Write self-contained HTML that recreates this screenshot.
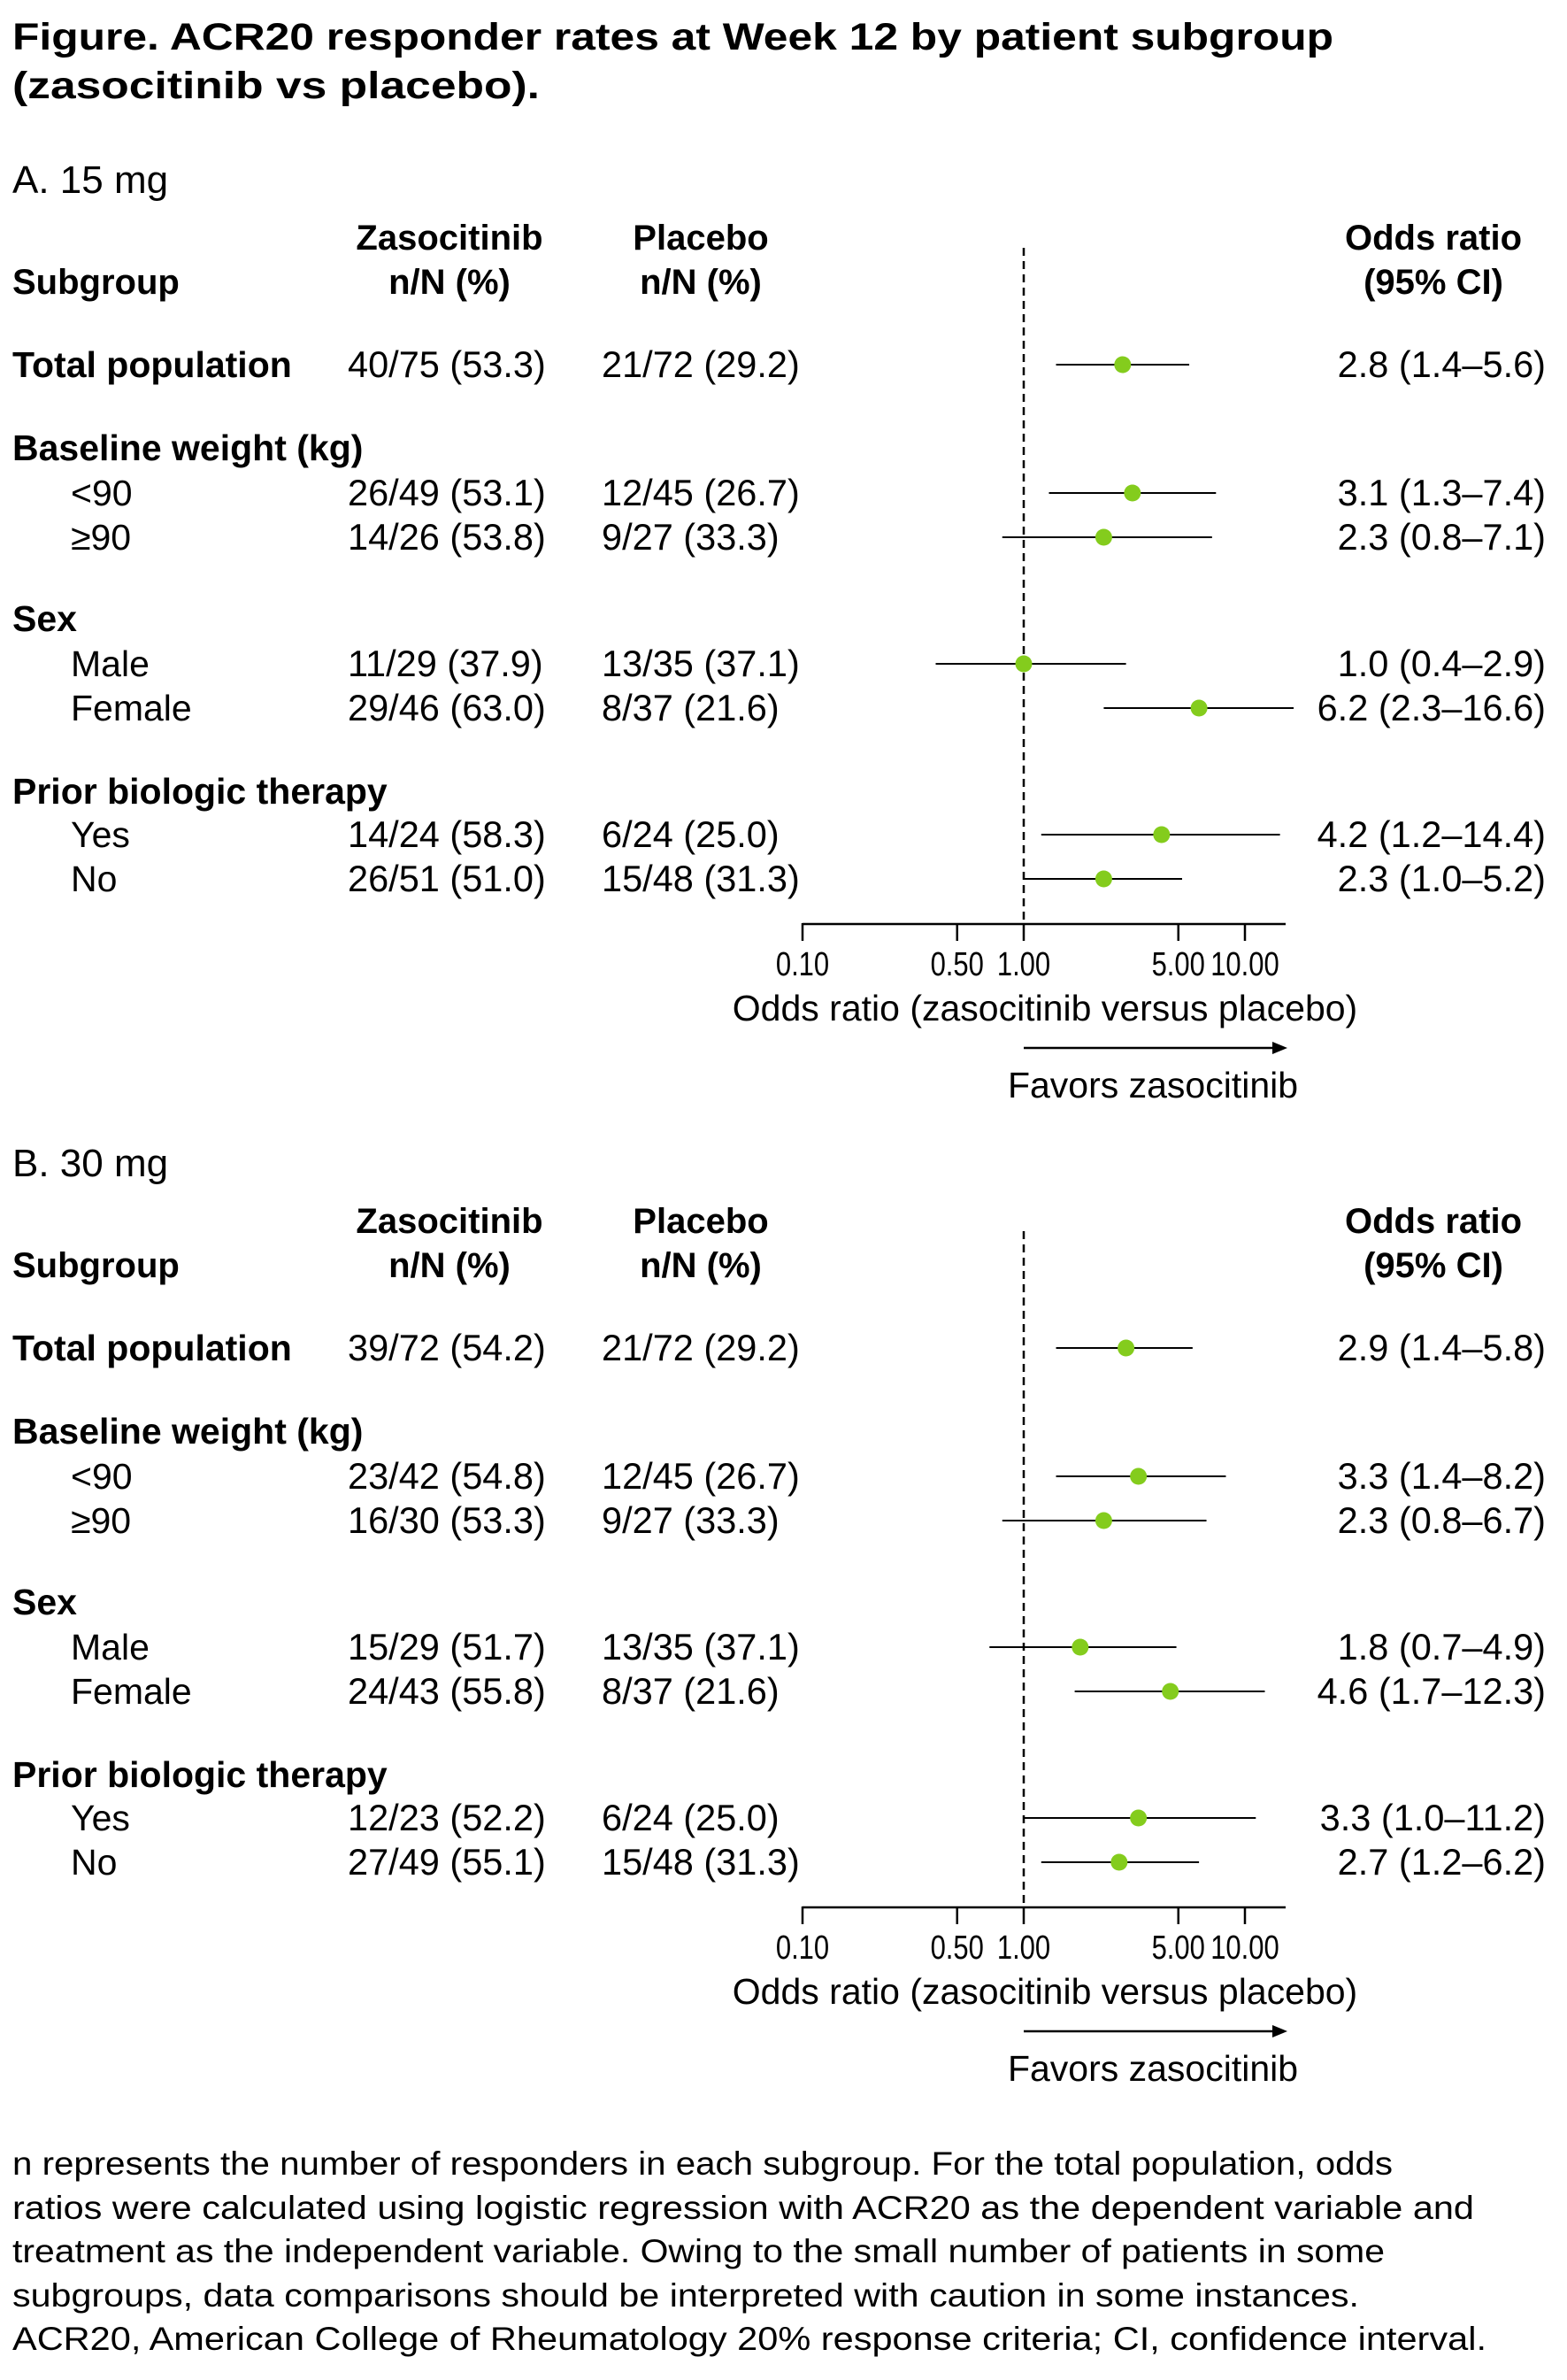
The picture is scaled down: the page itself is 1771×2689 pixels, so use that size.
<!DOCTYPE html>
<html><head><meta charset="utf-8"><style>
html,body{margin:0;padding:0;background:#fff}
svg{display:block;font-family:"Liberation Sans",Arial,sans-serif}
</style></head><body>
<svg id="fig" width="1771" height="2689" viewBox="0 0 1771 2689" xmlns="http://www.w3.org/2000/svg">
<g font-weight="bold" font-size="43" fill="#000">
<text x="14" y="56" textLength="1493" lengthAdjust="spacingAndGlyphs">Figure. ACR20 responder rates at Week 12 by patient subgroup</text>
<text x="14" y="111" textLength="596" lengthAdjust="spacingAndGlyphs">(zasocitinib vs placebo).</text>
</g>
<g id="panels"></g>
<g font-size="37" fill="#000">
<text x="14" y="2457" textLength="1560" lengthAdjust="spacingAndGlyphs">n represents the number of responders in each subgroup. For the total population, odds</text>
<text x="14" y="2507" textLength="1652" lengthAdjust="spacingAndGlyphs">ratios were calculated using logistic regression with ACR20 as the dependent variable and</text>
<text x="14" y="2556" textLength="1551" lengthAdjust="spacingAndGlyphs">treatment as the independent variable. Owing to the small number of patients in some</text>
<text x="14" y="2606" textLength="1522" lengthAdjust="spacingAndGlyphs">subgroups, data comparisons should be interpreted with caution in some instances.</text>
<text x="14" y="2655" textLength="1666" lengthAdjust="spacingAndGlyphs">ACR20, American College of Rheumatology 20% response criteria; CI, confidence interval.</text>
</g>
</svg>
<script>
const rowLabels = ["Total population","Baseline weight (kg)","<90","≥90","Sex","Male","Female","Prior biologic therapy","Yes","No"];
const rowKinds = ["bold","bold","sub","sub","bold","sub","sub","bold","sub","sub"];
const panelTitles = ["A. 15 mg","B. 30 mg"];
const zasoA = ["40/75 (53.3)","","26/49 (53.1)","14/26 (53.8)","","11/29 (37.9)","29/46 (63.0)","","14/24 (58.3)","26/51 (51.0)"];
const placA = ["21/72 (29.2)","","12/45 (26.7)","9/27 (33.3)","","13/35 (37.1)","8/37 (21.6)","","6/24 (25.0)","15/48 (31.3)"];
const orA = [2.8,null,3.1,2.3,null,1.0,6.2,null,4.2,2.3];
const loA = [1.4,null,1.3,0.8,null,0.4,2.3,null,1.2,1.0];
const hiA = [5.6,null,7.4,7.1,null,2.9,16.6,null,14.4,5.2];
const zasoB = ["39/72 (54.2)","","23/42 (54.8)","16/30 (53.3)","","15/29 (51.7)","24/43 (55.8)","","12/23 (52.2)","27/49 (55.1)"];
const placB = ["21/72 (29.2)","","12/45 (26.7)","9/27 (33.3)","","13/35 (37.1)","8/37 (21.6)","","6/24 (25.0)","15/48 (31.3)"];
const orB = [2.9,null,3.3,2.3,null,1.8,4.6,null,3.3,2.7];
const loB = [1.4,null,1.4,0.8,null,0.7,1.7,null,1.0,1.2];
const hiB = [5.8,null,8.2,6.7,null,4.9,12.3,null,11.2,6.2];
const tickValues = [0.1,0.5,1,5,10];
const tickLabels = ["0.10","0.50","1.00","5.00","10.00"];

const NS="http://www.w3.org/2000/svg";
const rowY=[412,506,557,607,699,750,800,894,943,993];
const xScale=v=>1157+250*Math.log10(v);
const fmt=v=>v.toFixed(1);
const emWidth=s=>[...s].reduce((a,c)=>a+(c==='.'?0.278:0.556),0);
function el(tag,attrs,parent,txt){const e=document.createElementNS(NS,tag);for(const k in attrs)e.setAttribute(k,attrs[k]);if(txt!==undefined)e.textContent=txt;parent.appendChild(e);return e;}
const root=document.getElementById('panels');
function panel(idx,zaso,plac,or,lo,hi){
  const off=idx*1111;
  const g=el('g',{transform:`translate(0,${off})`},root);
  
  
  const t=el('text',{x:14,y:218,'font-size':44},g,panelTitles[idx]);
  
  
  const hd=el('g',{'font-weight':'bold','font-size':40,'text-anchor':'middle'},g);
  
  
  el('text',{x:14,y:332,'text-anchor':'start'},hd,'Subgroup');
  el('text',{x:508,y:282},hd,'Zasocitinib');
  el('text',{x:508,y:332},hd,'n/N (%)');
  el('text',{x:792,y:282},hd,'Placebo');
  el('text',{x:792,y:332},hd,'n/N (%)');
  el('text',{x:1620,y:282},hd,'Odds ratio');
  el('text',{x:1620,y:332},hd,'(95% CI)');
  const dl=el('line',{x1:xScale(1),x2:xScale(1),y1:280,y2:1044,stroke:'#000','stroke-width':2.5,'stroke-dasharray':'9,6'},g);
  
  
  for(let i=0;i<rowLabels.length;i++){
    const y=rowY[i]+14;
    const lab=el('text',{x:rowKinds[i]==='sub'?80:14,y:y,'font-size':41,'font-weight':rowKinds[i]==='bold'?'bold':'normal'},g,rowLabels[i]);
    
    
    if(zaso[i]){
      const z=el('text',{x:393,y:y,'font-size':41.5},g,zaso[i]);
      
      
      const p=el('text',{x:680,y:y,'font-size':41.5},g,plac[i]);
      
      
    }
    if(or[i]!==null){
      const ci=el('line',{x1:xScale(lo[i]),x2:xScale(hi[i]),y1:rowY[i],y2:rowY[i],stroke:'#000','stroke-width':2},g);
      
      
      const pt=el('circle',{cx:xScale(or[i]),cy:rowY[i],r:9.5,fill:'#84cc1d'},g);
      
      
      const ot=el('text',{x:1747,y:y,'font-size':41.5,'text-anchor':'end'},g,`${fmt(or[i])} (${fmt(lo[i])}–${fmt(hi[i])})`);
      
      
    }
  }
  const ax=el('g',{},g);
  
  
  el('line',{x1:xScale(0.1),x2:1453,y1:1044,y2:1044,stroke:'#000','stroke-width':2.5},ax);
  tickValues.forEach((v,k)=>{
    el('line',{x1:xScale(v),x2:xScale(v),y1:1043,y2:1063,stroke:'#000','stroke-width':2.5},ax);
    const tl=el('text',{x:xScale(v),y:1102,'font-size':38,'text-anchor':'middle',textLength:(31*emWidth(tickLabels[k])).toFixed(1),lengthAdjust:'spacingAndGlyphs'},ax,tickLabels[k]);
    
    
  });
  const at=el('text',{x:1181,y:1153,'font-size':41,'text-anchor':'middle'},g,'Odds ratio (zasocitinib versus placebo)');
  
  
  const ar=el('g',{},g);
  
  
  el('line',{x1:1157,x2:1440,y1:1184,y2:1184,stroke:'#000','stroke-width':2.5},ar);
  el('polygon',{points:'1455,1184 1438,1177 1438,1191',fill:'#000'},ar);
  const fv=el('text',{x:1303,y:1240,'font-size':41,'text-anchor':'middle'},g,'Favors zasocitinib');
  
  
}
panel(0,zasoA,placA,orA,loA,hiA);
panel(1,zasoB,placB,orB,loB,hiB);
</script>
</body></html>
